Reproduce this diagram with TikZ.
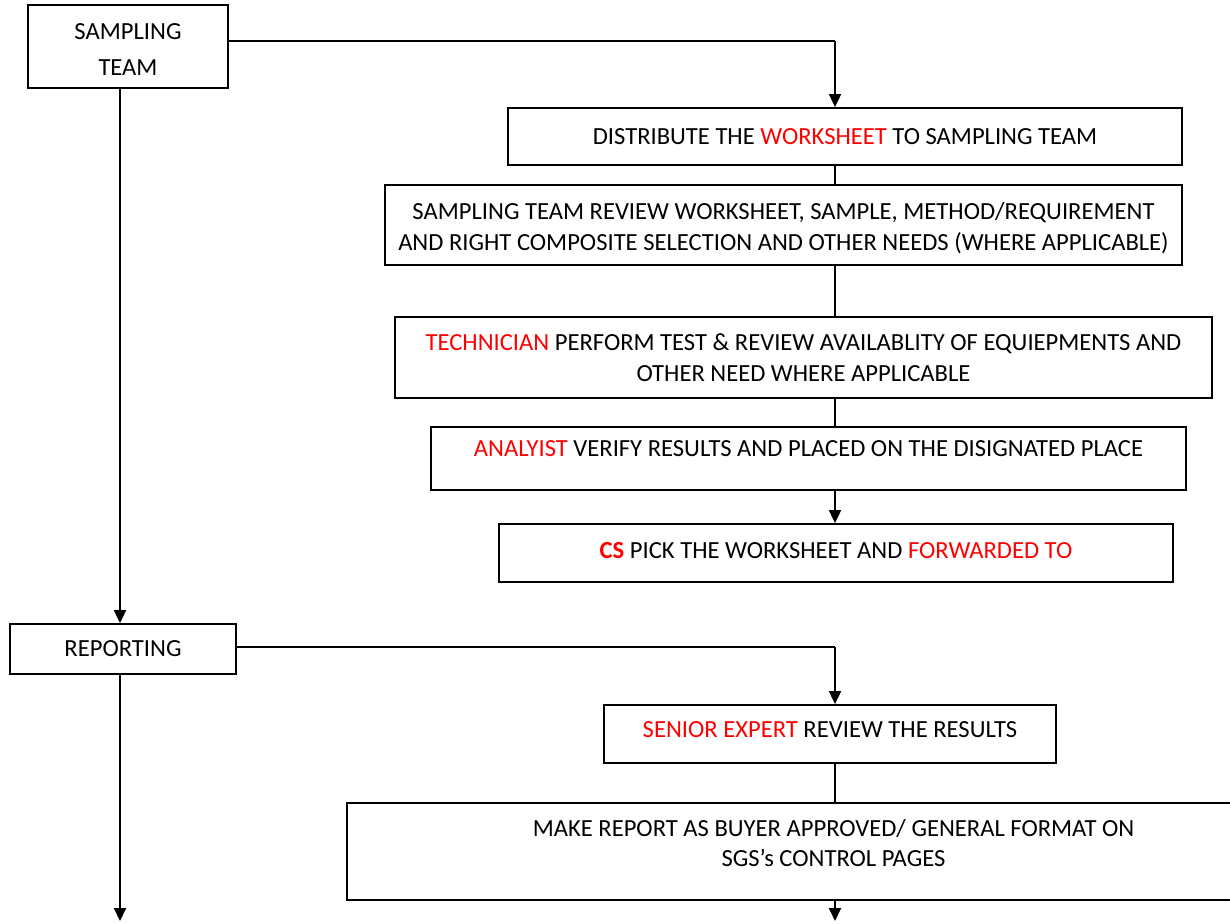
\documentclass[tikz,border=0pt]{standalone}
\usepackage{fontspec}
\setmainfont{Carlito}
\usetikzlibrary{arrows.meta}
% lift a line of text inside its box without changing the box
\newcommand{\lift}[2]{\raisebox{#1}[\height][\depth]{#2}}
\newcommand{\who}[1]{\textcolor{red}{#1}}
\begin{document}
\begin{tikzpicture}[x=0.5pt,y=-0.5pt,
    stepbox/.style={draw,line width=0.9pt,inner sep=0pt,align=center,
      font=\fontsize{12.3}{15.2}\selectfont},
    flow/.style={line width=0.6pt},
    flowarrow/.style={line width=0.9pt,-{Triangle[width=6pt,length=6.5pt]}}]
  \useasboundingbox (0,0) rectangle (1230,923);
  % rails
  \coordinate (spine) at (835,0);
  \coordinate (leftrail) at (120,0);
  \coordinate (toprail) at (835,41);
  \coordinate (midrail) at (835,647);
  \coordinate (endL) at (120,921);
  \coordinate (endR) at (835,921);
  % left column
  \node[stepbox,minimum width=100pt,minimum height=41.5pt] (team) at (128,46.5)
    {\lift{-1.5pt}{SAMPLING}\\[3pt]\lift{-1.5pt}{TEAM}};
  \node[stepbox,minimum width=113pt,minimum height=25pt] (report) at (123,649)
    {REPORTING};
  % right column
  \node[stepbox,minimum width=337pt,minimum height=28.5pt] (dist) at (845,136.5)
    {DISTRIBUTE THE \who{WORKSHEET} TO SAMPLING TEAM};
  \node[stepbox,minimum width=398.5pt,minimum height=40pt] (review) at (783.5,225)
    {\lift{-1.5pt}{SAMPLING TEAM REVIEW WORKSHEET, SAMPLE, METHOD/REQUIREMENT}\\
     \lift{-1.5pt}{AND RIGHT COMPOSITE SELECTION AND OTHER NEEDS (WHERE APPLICABLE)}};
  \node[stepbox,minimum width=408.5pt,minimum height=40.5pt] (tech) at (803.5,357.5)
    {\who{TECHNICIAN} PERFORM TEST \& REVIEW AVAILABLITY OF EQUIEPMENTS AND\\
     OTHER NEED WHERE APPLICABLE};
  \node[stepbox,minimum width=377.5pt,minimum height=31.5pt] (analyst) at (808.5,458.5)
    {\lift{4.75pt}{\who{ANALYIST} VERIFY RESULTS AND PLACED ON THE DISIGNATED PLACE}};
  \node[stepbox,minimum width=337pt,minimum height=29pt] (cs) at (836,553)
    {\lift{1.5pt}{\who{\textbf{CS}} PICK THE WORKSHEET AND \who{FORWARDED TO}}};
  \node[stepbox,minimum width=226pt,minimum height=29pt] (senior) at (830,734)
    {\lift{2pt}{\who{SENIOR EXPERT} REVIEW THE RESULTS}};
  \node[stepbox,minimum width=486.5pt,minimum height=48.5pt] (make) at (833.5,851.5)
    {\lift{4.25pt}{MAKE REPORT AS BUYER APPROVED/ GENERAL FORMAT ON}\\
     \lift{4.25pt}{SGS’s CONTROL PAGES}};
  % connectors
  \draw[flow] (team.east |- toprail) -- (toprail);
  \draw[flowarrow] (toprail) -- (dist.north -| spine);
  \draw[flow] (dist.south -| spine) -- (review.north -| spine);
  \draw[flow] (review.south -| spine) -- (tech.north -| spine);
  \draw[flow] (tech.south -| spine) -- (analyst.north -| spine);
  \draw[flowarrow] (analyst.south -| spine) -- (cs.north -| spine);
  \draw[flowarrow] (team.south -| leftrail) -- (report.north -| leftrail);
  \draw[flow] (report.east |- midrail) -- (midrail);
  \draw[flowarrow] (midrail) -- (senior.north -| spine);
  \draw[flow] (senior.south -| spine) -- (make.north -| spine);
  \draw[flowarrow] (make.south -| spine) -- (endR);
  \draw[flowarrow] (report.south -| leftrail) -- (endL);
\end{tikzpicture}
\end{document}
